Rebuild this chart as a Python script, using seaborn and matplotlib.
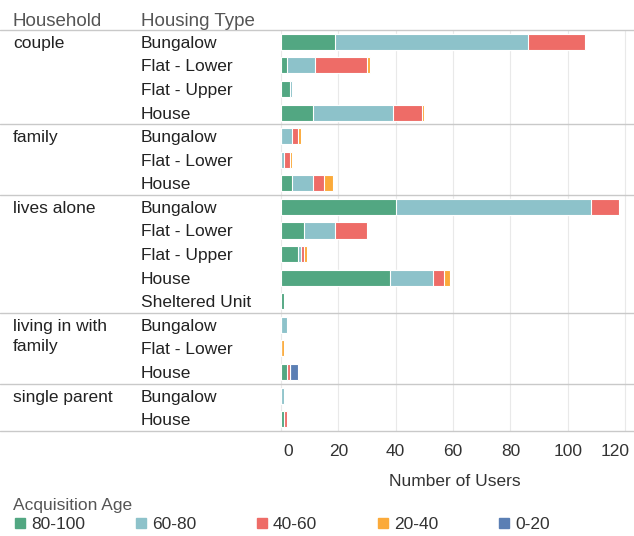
import pandas as pd
import matplotlib.pyplot as plt
import seaborn as sns
from matplotlib.lines import Line2D
from matplotlib.patches import Rectangle
from matplotlib.transforms import blended_transform_factory, ScaledTranslation

# chart data
households = (["couple"] * 4 + ["family"] * 3 + ["lives alone"] * 5
              + ["living in with family"] * 3 + ["single parent"] * 2)
housing_types = ["Bungalow", "Flat - Lower", "Flat - Upper", "House",
                 "Bungalow", "Flat - Lower", "House",
                 "Bungalow", "Flat - Lower", "Flat - Upper", "House", "Sheltered Unit",
                 "Bungalow", "Flat - Lower", "House",
                 "Bungalow", "House"]
age_groups = ["80-100", "60-80", "40-60", "20-40", "0-20"]
users_80_100 = [19, 2, 3, 11, 0, 0, 4, 40, 8, 6, 38, 1, 0, 0, 2, 0, 1]
users_60_80 = [67, 10, 1, 28, 4, 1, 7, 68, 11, 1, 15, 0, 2, 0, 0, 1, 0]
users_40_60 = [20, 18, 0, 10, 2, 2, 4, 10, 11, 1, 4, 0, 0, 0, 1, 0, 1]
users_20_40 = [0, 1, 0, 1, 1, 1, 3, 0, 0, 1, 2, 0, 0, 1, 0, 0, 0]
users_0_20 = [0, 0, 0, 0, 0, 0, 0, 0, 0, 0, 0, 0, 0, 0, 3, 0, 0]
x_ticks = [0, 20, 40, 60, 80, 100, 120]

colors = ["#52A782", "#8DC2CA", "#EE6C67", "#FBAA3A", "#5B7FB4"]
W, H = 634, 536
FS = 12.5


def main():
    sns.set_theme(style="white")
    plt.rcParams["font.family"] = ["Liberation Sans", "DejaVu Sans"]

    df = pd.DataFrame({"household": households, "housing": housing_types})
    df["row"] = df["household"] + "|" + df["housing"]
    series = [users_80_100, users_60_80, users_40_60, users_20_40, users_0_20]
    running = pd.Series([0] * len(df))
    for k, vals in enumerate(series):
        running = running + pd.Series(vals)
        df[f"cum{k}"] = running
    order = list(df["row"])

    fig = plt.figure(figsize=(W / 100, H / 100), dpi=100)
    ax = fig.add_axes([277 / W, 1 - 431 / H, 355 / W, 401 / H])

    # stacked bars: draw the totals first, then overlay the shorter sums
    for k in reversed(range(len(series))):
        sns.barplot(data=df, x=f"cum{k}", y="row", order=order, orient="h",
                    color=colors[k], saturation=1, width=0.68,
                    edgecolor="white", linewidth=0.8, errorbar=None, ax=ax)

    ax.set_xlim(-1.4, 122.4)
    ax.set_ylim(len(df) - 0.5, -0.5)
    ax.set_yticks([])
    ax.set_ylabel("")
    ax.set_xticks(x_ticks)
    ax.set_xticklabels([str(t) for t in x_ticks], fontsize=FS, color="#333333")
    ax.tick_params(axis="x", length=0, pad=9)
    # end labels pulled inward like the reference
    labels = ax.get_xticklabels()
    labels[0].set_ha("left")
    labels[0].set_transform(labels[0].get_transform() + ScaledTranslation(2 / 100, 0, fig.dpi_scale_trans))
    labels[-1].set_ha("right")
    labels[-1].set_transform(labels[-1].get_transform() + ScaledTranslation(5 / 100, 0, fig.dpi_scale_trans))
    ax.set_axisbelow(True)
    ax.xaxis.grid(True, color="#e9e9e9", linewidth=0.8)
    for side in ["top", "right", "left", "bottom"]:
        ax.spines[side].set_visible(False)
    ax.set_xlabel("Number of Users", fontsize=FS, color="#333333", labelpad=11)

    trans = blended_transform_factory(fig.transFigure, ax.transData)
    va = "center_baseline"

    # row headers
    fig.text(13 / W, 1 - 19 / H, "Household", fontsize=13.5, color="#555555", va=va)
    fig.text(141 / W, 1 - 19 / H, "Housing Type", fontsize=13.5, color="#555555", va=va)
    for i, ht in enumerate(housing_types):
        ax.text(141 / W, i, ht, transform=trans, fontsize=FS, color="#222222", va=va)

    # group labels and separators
    seps = [-0.5]
    prev = None
    for i, hh in enumerate(households):
        if hh != prev:
            if prev is not None:
                seps.append(i - 0.5)
            if hh == "living in with family":
                ax.text(13 / W, i, "living in with", transform=trans, fontsize=FS,
                        color="#222222", va=va)
                ax.text(13 / W, i + 0.85, "family", transform=trans, fontsize=FS,
                        color="#222222", va=va)
            else:
                ax.text(13 / W, i, hh, transform=trans, fontsize=FS,
                        color="#222222", va=va)
            prev = hh
    seps.append(len(households) - 0.5)
    for y in seps:
        fig.add_artist(Line2D([0, 1], [y, y], transform=trans, color="#c9c9c9", linewidth=1))

    # legend
    fig.text(13 / W, 1 - 504 / H, "Acquisition Age", fontsize=FS, color="#555555", va=va)
    for i, lab in enumerate(age_groups):
        x0 = (15 + 121 * i) / W
        fig.add_artist(Rectangle((x0, 1 - 528 / H), 10 / W, 10 / H,
                                 transform=fig.transFigure, color=colors[i]))
        fig.text(x0 + 16 / W, 1 - 523 / H, lab, fontsize=FS, color="#333333", va=va)

    fig.savefig("out.png", dpi=100)


main()
